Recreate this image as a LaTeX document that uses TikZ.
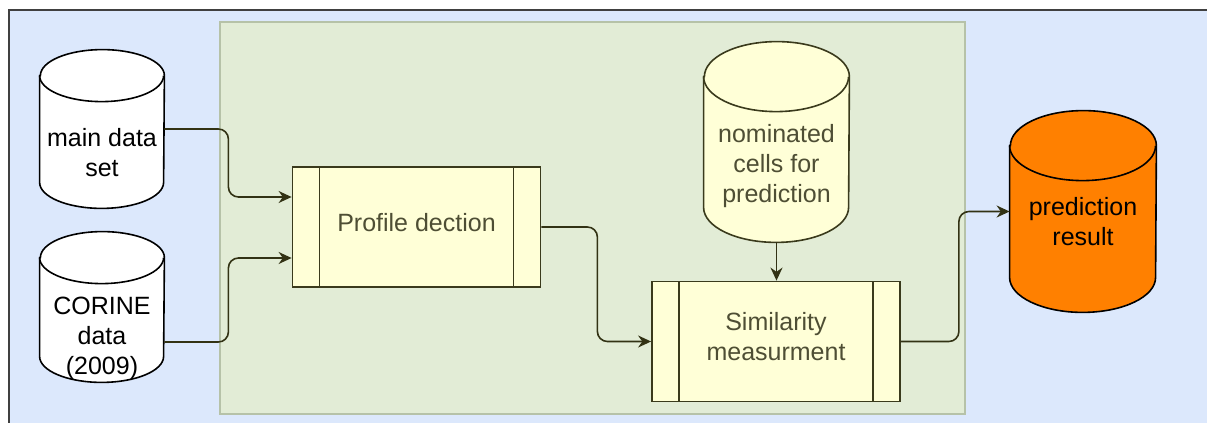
\documentclass[tikz,border=0pt]{standalone}
\usepackage{fontspec}
\setmainfont{Liberation Sans}
\usetikzlibrary{arrows.meta, calc}

\definecolor{outerbg}{RGB}{220,232,252}
\definecolor{panelfill}{RGB}{226,236,214}
\definecolor{panelline}{RGB}{182,194,168}
\definecolor{boxfill}{RGB}{255,255,215}
\definecolor{boxline}{RGB}{58,58,28}
\definecolor{boxtext}{RGB}{78,78,52}
\definecolor{arrowline}{RGB}{50,50,20}
\definecolor{predfill}{RGB}{255,128,0}

\begin{document}
\begin{tikzpicture}[
    x=0.5pt, y=-0.5pt,
    >=Stealth,
    font=\fontsize{12.5}{15}\selectfont,
    proc/.style={draw=boxline, fill=boxfill, line width=0.9pt, text=boxtext,
                 minimum width=124pt, minimum height=60pt, inner sep=0pt,
                 align=center, text depth=5pt,
                 path picture={
                   \draw[boxline, line width=0.9pt]
                     ([xshift=13.5pt]path picture bounding box.north west) --
                     ([xshift=13.5pt]path picture bounding box.south west)
                     ([xshift=-13.5pt]path picture bounding box.north east) --
                     ([xshift=-13.5pt]path picture bounding box.south east);}},
    db/.style={inner sep=0pt},
    dbtext/.style={align=center, inner sep=0pt},
    flow/.style={->, draw=arrowline, line width=0.8pt, rounded corners=5pt,
                 arrows={-Stealth[length=6.5pt, width=6pt]}}
  ]
  \useasboundingbox (0,0) rectangle (1207,423);

  % Background frame and process panel
  \draw[draw=black!75, fill=outerbg, line width=1pt] (9,10) rectangle (1230,450);
  \draw[draw=panelline, fill=panelfill, line width=0.8pt] (220,22) rectangle (965,414);

  % Data stores (outline drawn below)
  \node[db, minimum width=62pt, minimum height=79pt] (main) at (102,129) {};
  \node[db, minimum width=62pt, minimum height=75pt] (corine) at (102,307) {};
  \node[db, minimum width=72.5pt, minimum height=100pt] (nom) at (776.5,142) {};
  \node[db, minimum width=73pt, minimum height=100.5pt] (pred) at (1083,211.5) {};

  \foreach \db/\rx/\ry/\col/\ln in {main/31/13/white/black,
                                    corine/31/13/white/black,
                                    nom/36.25/17.5/boxfill/boxline,
                                    pred/36.5/17.5/predfill/black} {
    \draw[draw=\ln, fill=\col, line width=0.8pt]
      ([yshift=-\ry pt]\db.north west) -- ([yshift=\ry pt]\db.south west)
      arc[start angle=180, end angle=360, x radius=\rx pt, y radius=\ry pt]
      -- ([yshift=-\ry pt]\db.north east)
      arc[start angle=0, end angle=180, x radius=\rx pt, y radius=\ry pt]
      -- cycle;
    \draw[draw=\ln, line width=0.8pt] ([yshift=-\ry pt]\db.north west)
      arc[start angle=180, end angle=360, x radius=\rx pt, y radius=\ry pt];
  }

  \node[dbtext] (main text) at (102,153) {main data\\set};
  \node[dbtext] (corine text) at (102,338) {CORINE\\data\\(2009)};
  \node[dbtext, text=boxtext] (nom text) at (776.5,166) {nominated\\cells for\\prediction};
  \node[dbtext] (pred text) at (1083,222) {prediction\\result};

  % Processes
  \node[proc] (prof) at (416.5,227) {Profile dection};
  \node[proc] (sim) at (776,341.5) {Similarity\\measurment};

  % Connectors
  \draw[flow] (main.east) -- ++(64,0) |- ([yshift=15pt]prof.west);
  \draw[flow] ([yshift=-17.5pt]corine.east) -- ++(64,0) |- ([yshift=-15.5pt]prof.west);
  \draw[flow] (prof.east) -- ++(56,0) |- (sim.west);
  \draw[flow] (nom.south) -- (nom.south |- sim.north);
  \draw[flow] (sim.east) -- ++(58,0) |- (pred.west);
\end{tikzpicture}
\end{document}
